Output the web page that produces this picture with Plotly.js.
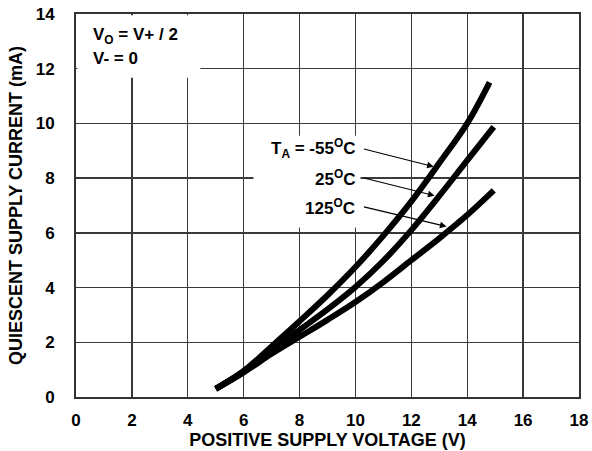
<!DOCTYPE html>
<html>
<head>
<meta charset="utf-8">
<script src="https://cdn.plot.ly/plotly-3.0.1.min.js"></script>
<style>html,body{margin:0;padding:0;background:#fff;}#chart{width:592px;height:451px;}</style>
</head>
<body>
<div id="chart"></div>
<script>
// Data
var vM55 = [5, 6, 7, 8, 9, 10, 11, 12, 13, 14, 14.8];
var iM55 = [0.3, 0.95, 1.85, 2.77, 3.72, 4.75, 5.9, 7.15, 8.55, 10.0, 11.5];
var v25 = [5, 6, 7, 8, 9, 10, 11, 12, 13, 14, 14.95];
var i25 = [0.3, 0.92, 1.7, 2.45, 3.2, 4.02, 4.98, 6.1, 7.35, 8.65, 9.87];
var v125 = [5, 6, 7, 8, 9, 10, 11, 12, 13, 14, 14.95];
var i125 = [0.3, 0.9, 1.58, 2.2, 2.82, 3.47, 4.2, 5.0, 5.8, 6.65, 7.55];
var xTicks = [0, 2, 4, 6, 8, 10, 12, 14, 16, 18];
var yTicks = [0, 2, 4, 6, 8, 10, 12, 14];
var curveLabels = ['T<sub>A</sub> = -55<sup>O</sup>C', '25<sup>O</sup>C', '125<sup>O</sup>C'];

var FONT = 'Liberation Sans, Arial, Helvetica, sans-serif';
var lineStyle = {color: '#000', width: 6, shape: 'spline', smoothing: 1};

var traces = [
  {x: vM55, y: iM55, mode: 'lines', line: lineStyle, hoverinfo: 'skip'},
  {x: v25, y: i25, mode: 'lines', line: lineStyle, hoverinfo: 'skip'},
  {x: v125, y: i125, mode: 'lines', line: lineStyle, hoverinfo: 'skip'}
];

var labelPos = [[10.05, 9.1], [10.05, 8.0], [10.05, 6.96]];
var headPos = [[12.8, 8.42], [12.83, 7.36], [13.26, 6.23]];
var tailPos = [[10.25, 9.08], [10.25, 8.02], [10.25, 6.96]];

var annFont = {family: FONT, size: 17, color: '#000', weight: 'bold'};
var annotations = [
  {xref: 'x', yref: 'y', x: 0.55, y: 13.2, xanchor: 'left', yanchor: 'middle', showarrow: false,
   text: 'V<sub>O</sub> = V+ / 2', font: annFont},
  {xref: 'x', yref: 'y', x: 0.55, y: 12.38, xanchor: 'left', yanchor: 'middle', showarrow: false,
   text: 'V- = 0', font: annFont}
];
for (var k = 0; k < 3; k++) {
  annotations.push({xref: 'x', yref: 'y', x: labelPos[k][0], y: labelPos[k][1], xanchor: 'right', yanchor: 'middle',
    showarrow: false, text: curveLabels[k], font: annFont});
  annotations.push({xref: 'x', yref: 'y', axref: 'x', ayref: 'y', x: headPos[k][0], y: headPos[k][1],
    ax: tailPos[k][0], ay: tailPos[k][1], text: '', showarrow: true, arrowhead: 2, arrowsize: 1.1,
    arrowwidth: 1.2, arrowcolor: '#000', standoff: 0, startstandoff: 0});
}

var shapes = [
  {type: 'rect', xref: 'x', yref: 'y', x0: 0.05, x1: 4.45, y0: 11.67, y1: 13.95, fillcolor: '#fff', line: {width: 0}, layer: 'between'},
  {type: 'rect', xref: 'x', yref: 'y', x0: 6.35, x1: 10.18, y0: 6.2, y1: 9.55, fillcolor: '#fff', line: {width: 0}, layer: 'between'}
];

var axisCommon = {
  showgrid: true, gridcolor: '#3a3a3a', gridwidth: 1.3,
  showline: true, linecolor: '#333', linewidth: 2, mirror: true,
  zeroline: false, ticks: 'outside', tickcolor: 'rgba(0,0,0,0)',
  tickfont: {family: FONT, size: 17, color: '#000', weight: 'bold'}
};
var titleFont = {family: FONT, size: 18, color: '#000', weight: 'bold'};

var layout = {
  width: 592, height: 451,
  margin: {l: 76, r: 13, t: 14, b: 54},
  paper_bgcolor: '#fff', plot_bgcolor: '#fff',
  showlegend: false,
  xaxis: Object.assign({}, axisCommon, {
    range: [0, 18], tickvals: xTicks, ticktext: xTicks.map(String), ticklen: 7,
    title: {text: 'POSITIVE SUPPLY VOLTAGE (V)', standoff: 0, font: titleFont}
  }),
  yaxis: Object.assign({}, axisCommon, {
    range: [0, 14], tickvals: yTicks, ticktext: yTicks.map(String), ticklen: 16,
    title: {text: 'QUIESCENT SUPPLY CURRENT (mA)', standoff: 8, font: titleFont}
  }),
  shapes: shapes,
  annotations: annotations
};

Plotly.newPlot('chart', traces, layout, {displayModeBar: false, staticPlot: true});
</script>
</body>
</html>
